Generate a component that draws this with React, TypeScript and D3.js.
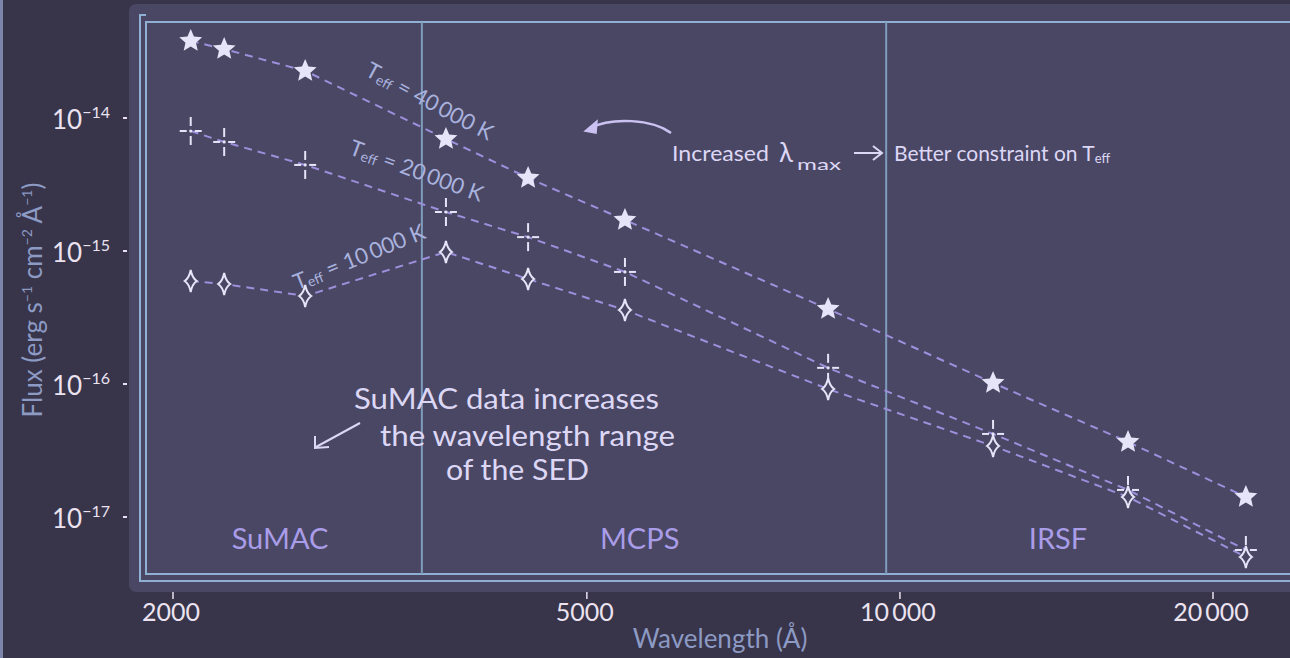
import React from "react";
import * as d3 from "d3";

// ---- data ----
const wavelengths = [2080, 2240, 2680, 3660, 4390, 5440, 8530, 12290, 16570, 21510];
const flux40k = [3.73e-14, 3.24e-14, 2.22e-14, 6.84e-15, 3.48e-15, 1.68e-15, 3.6e-16, 1.0e-16, 3.6e-17, 1.39e-17];
const flux20k = [7.85e-15, 6.49e-15, 4.36e-15, 1.93e-15, 1.25e-15, 6.84e-16, 1.3e-16, 4.14e-17, 1.57e-17, 5.55e-18];
const flux10k = [5.85e-16, 5.55e-16, 4.51e-16, 9.66e-16, 6.05e-16, 3.54e-16, 9.01e-17, 3.36e-17, 1.39e-17, 4.92e-18];
const surveyBounds = [3470, 9700];
const surveyNames = ["SuMAC", "MCPS", "IRSF"];
const surveyLabelWl = [2535, 5620, 14190];
const xTickValues = [2000, 5000, 10000, 20000];
const xTickLabels = ["2000", "5000", "10\u2009000", "20\u2009000"];
const yTickExponents = [-14, -15, -16, -17];

const W = 1290;
const H = 658;
const FONT = "Lato, 'Open Sans', sans-serif";

const x = d3.scaleLog().domain([2000, 20000]).range([173, 1213]);
const y = d3.scaleLog().domain([1e-14, 1e-17]).range([117, 516]);

const FRAME = "#8fb0d2";
const LINE = "#9d8fdc";
const MARK = "#e6e4f8";
const PANEL = "#4a4764";

function starPath(R: number, r: number) {
  const pts: [number, number][] = [];
  for (let i = 0; i < 10; i++) {
    const a = -Math.PI / 2 + (i * Math.PI) / 5;
    const rad = i % 2 === 0 ? R : r;
    pts.push([Math.cos(a) * rad, Math.sin(a) * rad]);
  }
  return d3.line()(pts) + "Z";
}
const STAR = starPath(12, 5.5);
const DIAMOND = "M0,-11 Q1.5,-3 6,0 Q1.5,3 0,11 Q-1.5,3 -6,0 Q-1.5,-3 0,-11 Z";

const line = d3
  .line<[number, number]>()
  .x((d) => x(d[0]))
  .y((d) => y(d[1]));

function Series({ flux }: { flux: number[] }) {
  const pts = wavelengths.map((w, i) => [w, flux[i]] as [number, number]);
  return (
    <path d={line(pts) || ""} fill="none" stroke={LINE} strokeWidth={2} strokeDasharray="8 6" />
  );
}

function Teff({ cx, cy, angle, value }: { cx: number; cy: number; angle: number; value: string }) {
  return (
    <text
      transform={`translate(${cx},${cy}) rotate(${angle})`}
      textAnchor="middle"
      fill="#a9b2de"
      fontSize={22}
      fontFamily={FONT}
    >
      T
      <tspan fontSize={14} dy={2}>
        eff
      </tspan>
      <tspan dy={-2}>{` = ${value} K`}</tspan>
    </text>
  );
}

export default function App() {
  const right = W + 20;
  return (
    <svg
      width={W}
      height={H}
      style={{ position: "fixed", left: 0, top: 0, display: "block" }}
      fontFamily={FONT}
    >
      <rect x={0} y={0} width={W} height={H} fill="#38344a" />
      <rect x={0} y={0} width={3} height={H} fill="#7c86aa" />
      <rect x={129} y={4} width={W} height={588} rx={7} fill={PANEL} />

      {/* frame */}
      <g stroke={FRAME} strokeWidth={2} fill="none">
        <path d={`M${right},22 H146 V574 H${right}`} />
        <path d={`M146,15 H140 V581 H${right}`} />
      </g>
      {surveyBounds.map((b) => (
        <line key={b} x1={x(b)} x2={x(b)} y1={22} y2={574} stroke="#7f9cbc" strokeWidth={2} />
      ))}

      {/* survey labels */}
      {surveyNames.map((n, i) => (
        <text
          key={n}
          x={x(surveyLabelWl[i])}
          y={549}
          textAnchor="middle"
          fill="#a99ce8"
          fontSize={29}
        >
          {n}
        </text>
      ))}

      {/* series lines */}
      <Series flux={flux40k} />
      <Series flux={flux20k} />
      <Series flux={flux10k} />

      {/* markers */}
      {wavelengths.map((w, i) => (
        <path key={"s" + i} d={STAR} transform={`translate(${x(w)},${y(flux40k[i])})`} fill={MARK} />
      ))}
      {wavelengths.map((w, i) => (
        <g key={"c" + i} transform={`translate(${x(w)},${y(flux20k[i])})`} stroke={MARK} strokeWidth={2}>
          <line x1={0} x2={0} y1={-14} y2={-5} />
          <line x1={0} x2={0} y1={5} y2={14} />
          <line x1={-11} x2={-4} y1={0} y2={0} />
          <line x1={4} x2={11} y1={0} y2={0} />
          <circle r={1.6} fill={MARK} stroke="none" />
        </g>
      ))}
      {wavelengths.map((w, i) => (
        <path
          key={"d" + i}
          d={DIAMOND}
          transform={`translate(${x(w)},${y(flux10k[i])})`}
          fill={PANEL}
          stroke={MARK}
          strokeWidth={2}
        />
      ))}

      {/* Teff labels */}
      <Teff cx={426} cy={108} angle={28} value={"40\u2009000"} />
      <Teff cx={414} cy={178} angle={20} value={"20\u2009000"} />
      <Teff cx={362} cy={264} angle={-22} value={"10\u2009000"} />

      {/* annotation: increased lambda */}
      <path d="M671,133 C652,119 612,117 590,128" fill="none" stroke="#cbc2f2" strokeWidth={2.5} />
      <path d="M585,131 L597,121 L596,133 Z" fill="#cbc2f2" stroke="#cbc2f2" strokeWidth={1.5} />
      <g fill="#ddd7f6">
        <text x={672} y={161} fontSize={21} textLength={97} lengthAdjust="spacingAndGlyphs">
          Increased
        </text>
        <text x={779} y={162} fontSize={26}>
          λ
        </text>
        <text x={797} y={170} fontSize={16} textLength={44} lengthAdjust="spacingAndGlyphs">
          max
        </text>
        <text x={894} y={161} fontSize={21}>
          Better constraint on T
          <tspan fontSize={13} dy={2}>
            eff
          </tspan>
        </text>
      </g>
      <g stroke="#ddd7f6" strokeWidth={2} fill="none">
        <path d="M854,153 H881" />
        <path d="M873,146 L882,153 L873,160" />
      </g>

      {/* annotation: SuMAC */}
      <g fill="#ddd7f6" fontSize={28}>
        <text x={354} y={409} textLength={305} lengthAdjust="spacingAndGlyphs">
          SuMAC data increases
        </text>
        <text x={380} y={446} textLength={295} lengthAdjust="spacingAndGlyphs">
          the  wavelength range
        </text>
        <text x={446} y={480} textLength={143} lengthAdjust="spacingAndGlyphs">
          of the SED
        </text>
      </g>
      <g stroke="#ddd7f6" strokeWidth={2} fill="none">
        <path d="M360,423 L316,447" />
        <path d="M315,436 L315,448 L329,447" />
      </g>

      {/* x axis */}
      {xTickValues.map((v, i) => (
        <g key={v} transform={`translate(${x(v)},0)`}>
          <line y1={592} y2={599} stroke="#e9e1f0" strokeWidth={1.5} />
          <text x={-2} y={621} textAnchor="middle" fill="#ebe3f0" fontSize={25}>
            {xTickLabels[i]}
          </text>
        </g>
      ))}
      <text x={720} y={648} textAnchor="middle" fill="#8c9ac4" fontSize={26}>
        Wavelength (Å)
      </text>

      {/* y axis */}
      {yTickExponents.map((e) => (
        <g key={e} transform={`translate(0,${y(Math.pow(10, e))})`}>
          <line x1={123} x2={127} y1={1} y2={1} stroke="#e9e1f0" strokeWidth={2} />
          <text x={52} y={12} fill="#ebe3f0" fontSize={26}>
            10
            <tspan fontSize={16} dy={-11}>
              {"\u2212" + Math.abs(e)}
            </tspan>
          </text>
        </g>
      ))}
      <text
        transform="translate(42,300) rotate(-90)"
        textAnchor="middle"
        fill="#8c9ac4"
        fontSize={26}
      >
        Flux (erg s
        <tspan fontSize={14} dy={-10}>
          −1
        </tspan>
        <tspan dy={10}> cm</tspan>
        <tspan fontSize={14} dy={-10}>
          −2
        </tspan>
        <tspan dy={10}> Å</tspan>
        <tspan fontSize={14} dy={-10}>
          −1
        </tspan>
        <tspan dy={10}>)</tspan>
      </text>
    </svg>
  );
}
